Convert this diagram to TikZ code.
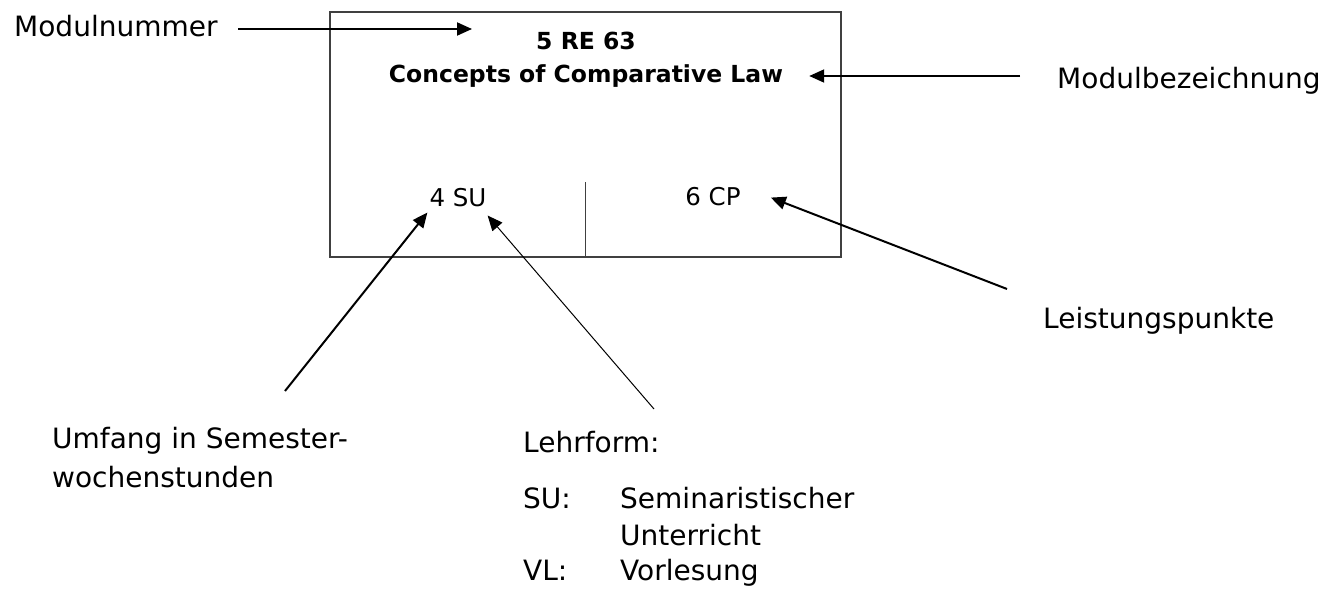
\documentclass[tikz,border=0pt]{standalone}
\usepackage{fontspec}
\setmainfont{DejaVu Sans}
\usetikzlibrary{arrows.meta,calc}
\tikzset{
  lbl/.style={inner sep=0pt,anchor=base west,font=\fontsize{28}{38}\selectfont},
  boxtxt/.style={inner sep=0pt,anchor=base,font=\fontsize{24.5}{30}\selectfont},
  headtxt/.style={inner sep=0pt,anchor=base,font=\fontsize{23.5}{30}\selectfont\bfseries},
  pointer/.style={line width=2pt,-{Triangle[length=15pt,width=13pt]}},
}
\begin{document}
\begin{tikzpicture}[x=1pt,y=-1pt]
      \useasboundingbox (0,0) rectangle (1326,589);
      \node[draw=black!75,line width=1.5pt,minimum width=511pt,minimum height=245pt,inner sep=0pt] (modul) at (585.5,134.5) {};
      \draw[black!75,line width=1.5pt] (modul.south) -- ++(0,-76);
      \draw
        (586,49) node[headtxt] (nr){5 RE 63}
        (586,82) node[headtxt] (title){Concepts of Comparative Law}
        (458,206) node[boxtxt] (su){4 SU}
        (713,205) node[boxtxt] (cp){6 CP}
        (14,36) node[lbl] (num){Modulnummer}
        (1057,88) node[lbl] (bez){Modulbezeichnung}
        (1043,328) node[lbl] (lp){Leistungspunkte}
        (52,448) node[lbl] (umf1){Umfang in Semester-}
        (52,487) node[lbl] (umf2){wochenstunden}
        (523,452) node[lbl] (lf){Lehrform:}
        (523,508) node[lbl] (su1){SU:}
        (620,508) node[lbl] (su2){Seminaristischer}
        (620,545) node[lbl] (su3){Unterricht}
        (523,580) node[lbl] (vl1){VL:}
        (620,580) node[lbl] (vl2){Vorlesung};
      \coordinate (numtail) at (238,29);
      \coordinate (numtip) at ($(nr.west)+(-64,0)$);
      \coordinate (beztail) at (1020,76);
      \coordinate (beztip) at ($(title.east)+(26,0)$);
      \coordinate (lptail) at (1007,289);
      \coordinate (umftail) at (285,391);
      \coordinate (lftail) at (654,409);
      \begin{scope}[pointer]
        \draw (numtail) to (numtail -| numtip);
        \draw (beztail) to (beztail -| beztip);
        \draw (lptail) to ($(cp.east)+(30,1.5)$);
        \draw (umftail) to ($(su.south west)+(-2,6)$);
        \draw[line width=1pt] (lftail) to ($(su.south east)+(1,9)$);
      \end{scope}
    \end{tikzpicture}
\end{document}
